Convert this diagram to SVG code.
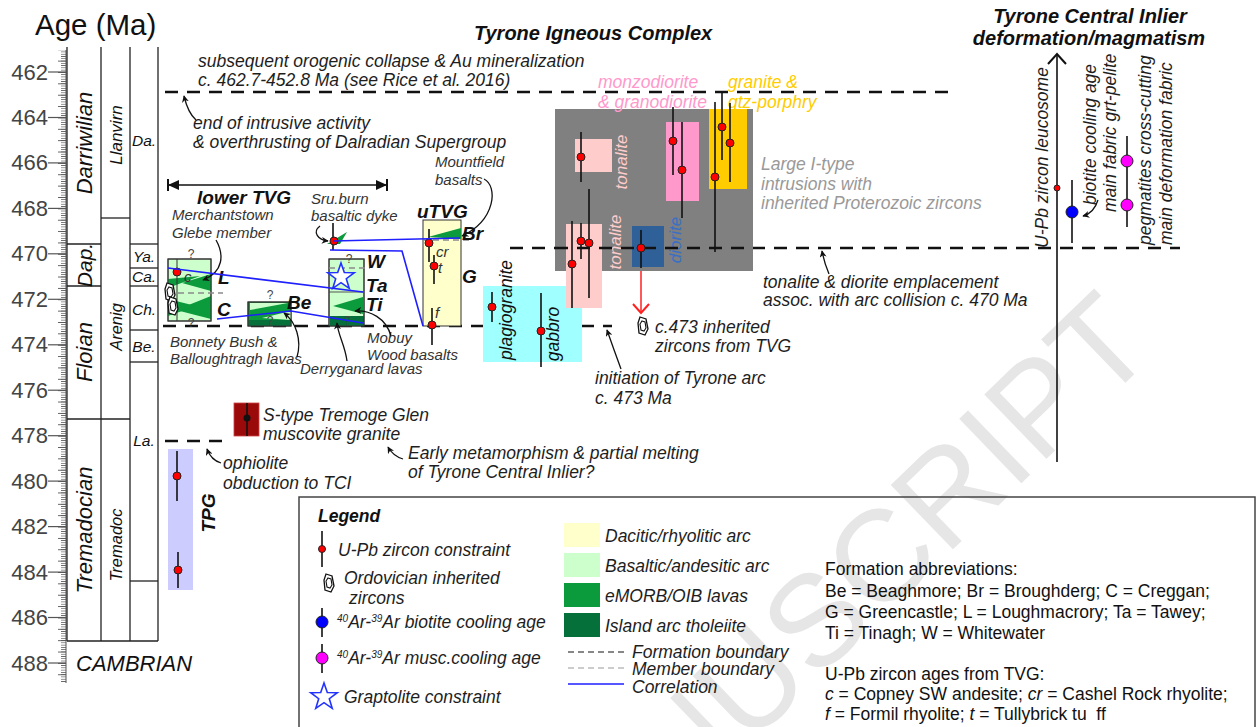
<svg xmlns="http://www.w3.org/2000/svg" width="1258" height="727" viewBox="0 0 1258 727">
<style>
text{font-family:"Liberation Sans",Arial,Helvetica,sans-serif;}
.i{font-style:italic}
.b{font-weight:bold}
.ann{font-size:17.5px;font-style:italic;fill:#1e1e1e}
.sm{font-size:15px;font-style:italic;fill:#333}
.lab{font-size:19px;font-weight:bold;font-style:italic;fill:#111}
.age{font-size:22px;fill:#444;text-anchor:end}
.pt{fill:#ff0000;stroke:#222;stroke-width:1}
.el{stroke:#111;stroke-width:1.6;fill:none}
.dash{stroke:#111;stroke-width:2.5;stroke-dasharray:13 9;fill:none}
.mdash{stroke:#8a8a8a;stroke-width:1.5;stroke-dasharray:6 4;fill:none}
.corr{stroke:#1f1fff;stroke-width:1.6;fill:none}
.arr{stroke:#111;stroke-width:1.3;fill:none;marker-end:url(#ah)}
.q{font-size:12px;fill:#444;text-anchor:middle}
.box{stroke:#333;stroke-width:1}
.col{stroke:#222;stroke-width:1.3;fill:none}
</style>
<defs>
<marker id="ah" viewBox="0 0 10 10" refX="9" refY="5" markerWidth="7" markerHeight="7" orient="auto" markerUnits="userSpaceOnUse">
<path d="M0,0 L10,5 L0,10 L3,5 Z" fill="#111"/>
</marker>
<symbol id="zr" viewBox="-7 -10 14 20" overflow="visible">
<path d="M-3,-9 L3,-7 L5,3 L2,9 L-4,7 L-5,-3 Z" fill="#fff" stroke="#111" stroke-width="1.3"/>
<path d="M-1,-5 L2,-4 L3,2 L1,5 L-2,4 L-3,-2 Z" fill="none" stroke="#111" stroke-width="1.1"/>
</symbol>
<symbol id="star" viewBox="-15 -15 30 30" overflow="visible">
<path d="M0,-14 L3.3,-4.5 L13.3,-4.3 L5.3,1.7 L8.2,11.3 L0,5.6 L-8.2,11.3 L-5.3,1.7 L-13.3,-4.3 L-3.3,-4.5 Z" fill="#fff" stroke="#2233ff" stroke-width="1.6"/>
</symbol>
<pattern id="tk1" patternUnits="userSpaceOnUse" x="0" y="72" width="20" height="2.2727"><rect x="0" y="0" width="20" height="0.7" fill="#555"/></pattern>
<pattern id="tk5" patternUnits="userSpaceOnUse" x="0" y="72" width="20" height="11.364"><rect x="0" y="0" width="20" height="0.9" fill="#555"/></pattern>
</defs>

<g id="watermark">
<text x="540" y="948" transform="rotate(-44 540 948)" font-size="130" fill="#e6e6e6">MANUSCRIPT</text>
</g>

<g id="timescale">
<text x="35" y="35" font-size="29.5" fill="#111">Age (Ma)</text>
<rect x="61" y="50" width="5" height="633" fill="url(#tk1)"/>
<rect x="58" y="50" width="8" height="633" fill="url(#tk5)"/>
<line x1="66" y1="50" x2="66" y2="683" stroke="#555" stroke-width="1"/>
<g stroke="#555" stroke-width="1.2">
<line x1="48" y1="72" x2="66" y2="72"/><line x1="48" y1="117.5" x2="66" y2="117.5"/><line x1="48" y1="162.9" x2="66" y2="162.9"/><line x1="48" y1="208.4" x2="66" y2="208.4"/><line x1="48" y1="253.8" x2="66" y2="253.8"/><line x1="48" y1="299.3" x2="66" y2="299.3"/><line x1="48" y1="344.8" x2="66" y2="344.8"/><line x1="48" y1="390.2" x2="66" y2="390.2"/><line x1="48" y1="435.7" x2="66" y2="435.7"/><line x1="48" y1="481.1" x2="66" y2="481.1"/><line x1="48" y1="526.6" x2="66" y2="526.6"/><line x1="48" y1="572.1" x2="66" y2="572.1"/><line x1="48" y1="617.5" x2="66" y2="617.5"/><line x1="48" y1="663" x2="66" y2="663"/>
</g>
<g class="age">
<text x="48" y="79.5">462</text><text x="48" y="125">464</text><text x="48" y="170.4">466</text><text x="48" y="215.9">468</text><text x="48" y="261.3">470</text><text x="48" y="306.8">472</text><text x="48" y="352.3">474</text><text x="48" y="397.7">476</text><text x="48" y="443.2">478</text><text x="48" y="488.6">480</text><text x="48" y="534.1">482</text><text x="48" y="579.6">484</text><text x="48" y="625">486</text><text x="48" y="670.5">488</text>
</g>
<g class="col">
<line x1="67" y1="47" x2="67" y2="641"/><line x1="101" y1="47" x2="101" y2="641"/><line x1="130" y1="47" x2="130" y2="641"/><line x1="158" y1="47" x2="158" y2="641"/>
<line x1="67" y1="641" x2="158" y2="641"/>
<line x1="67" y1="244" x2="101" y2="244"/><line x1="67" y1="286" x2="101" y2="286"/><line x1="67" y1="419" x2="130" y2="419"/>
<line x1="101" y1="218" x2="130" y2="218"/>
<line x1="130" y1="244" x2="158" y2="244"/><line x1="130" y1="268" x2="158" y2="268"/><line x1="130" y1="286" x2="158" y2="286"/><line x1="130" y1="330" x2="158" y2="330"/><line x1="130" y1="362" x2="158" y2="362"/><line x1="130" y1="581" x2="158" y2="581"/>
</g>
<g class="i" fill="#111" text-anchor="middle">
<text x="92" y="143" font-size="22" transform="rotate(-90 92 143)">Darriwilian</text>
<text x="92" y="265" font-size="21" transform="rotate(-90 92 265)">Dap.</text>
<text x="92" y="352" font-size="22" transform="rotate(-90 92 352)">Floian</text>
<text x="92" y="530" font-size="22" transform="rotate(-90 92 530)">Tremadocian</text>
<text x="122" y="135" font-size="17" transform="rotate(-90 122 135)">Llanvirn</text>
<text x="122" y="327" font-size="16.5" transform="rotate(-90 122 327)">Arenig</text>
<text x="122" y="545" font-size="16.5" transform="rotate(-90 122 545)">Tremadoc</text>
<text x="144" y="146" font-size="15.5">Da.</text>
<text x="144" y="262" font-size="15.5">Ya.</text>
<text x="144" y="282" font-size="15.5">Ca.</text>
<text x="144" y="315" font-size="15.5">Ch.</text>
<text x="144" y="352" font-size="15.5">Be.</text>
<text x="144" y="446" font-size="15.5">La.</text>
</g>
<text x="76" y="671" font-size="22" class="i" fill="#111">CAMBRIAN</text>
</g>

<g id="boundaries">
<line class="dash" x1="165" y1="92" x2="955" y2="92"/>
<line class="dash" x1="510" y1="248" x2="1180" y2="248"/>
<line class="dash" x1="163" y1="326" x2="612" y2="326"/>
<line class="dash" x1="165" y1="441" x2="223" y2="441"/>
</g>

<g id="headers">
<text x="474" y="40" font-size="20" class="b i" fill="#111">Tyrone Igneous Complex</text>
<text x="1090" y="23" font-size="20" class="b i" fill="#111" text-anchor="middle">Tyrone Central Inlier</text>
<text x="1089" y="45" font-size="20" class="b i" fill="#111" text-anchor="middle">deformation/magmatism</text>
<text x="198" y="67" class="ann">subsequent orogenic collapse &amp; Au mineralization</text>
<text x="198" y="86" class="ann">c. 462.7-452.8 Ma (see Rice et al. 2016)</text>
<text x="193" y="129" class="ann">end of intrusive activity</text>
<text x="193" y="148" class="ann">&amp; overthrusting of Dalradian Supergroup</text>
<path class="arr" d="M196,120 Q188,113 184,96"/>
</g>

<g id="tpg">
<rect x="168" y="449" width="25" height="141" fill="#ccccff"/>
<line class="el" x1="177" y1="451" x2="177" y2="501"/>
<circle class="pt" cx="177" cy="476" r="4"/>
<line class="el" x1="178" y1="552" x2="178" y2="588"/>
<circle class="pt" cx="178" cy="570" r="4"/>
<text x="215" y="513" class="lab" text-anchor="middle" transform="rotate(-90 215 513)">TPG</text>
<text x="223" y="469" class="ann">ophiolite</text>
<text x="223" y="489" class="ann">obduction to TCI</text>
<path class="arr" d="M221,463 Q211,460 207,449"/>
</g>

<g id="stype">
<rect x="234" y="403" width="25" height="33" fill="#9b0a0a" stroke="#c44" stroke-width="0.8"/>
<line class="el" x1="247" y1="403" x2="247" y2="436"/>
<circle cx="247" cy="418" r="3.5" fill="#111"/>
<text x="263" y="421" class="ann">S-type Tremoge Glen</text>
<text x="263" y="440" class="ann">muscovite granite</text>
<text x="408" y="459" class="ann">Early metamorphism &amp; partial melting</text>
<text x="408" y="478" class="ann">of Tyrone Central Inlier?</text>
<path class="arr" d="M403,459 Q393,456 388,447"/>
</g>

<g id="lowerTVG">
<line x1="168" y1="185" x2="387" y2="185" stroke="#111" stroke-width="1.5"/>
<line x1="168" y1="179" x2="168" y2="191" stroke="#111" stroke-width="2"/>
<line x1="387" y1="179" x2="387" y2="191" stroke="#111" stroke-width="2"/>
<path d="M168,185 L179,180 L179,190 Z" fill="#111"/>
<path d="M387,185 L376,180 L376,190 Z" fill="#111"/>
<text x="197" y="204" class="lab" font-size="20.5">lower TVG</text>
</g>

<g id="col-LC">
<rect x="168" y="259" width="43" height="62" fill="#ccffcc" class="box"/>
<path d="M182,283 L211,274 L211,291 Z" fill="#0b9a3c"/>
<path d="M168,279 L200,276 L168,288 Z" fill="#0b9a3c"/>
<path d="M176,310 L211,296 L211,319 Z" fill="#0b9a3c"/>
<path d="M168,299 L196,306 L168,316 Z" fill="#0b9a3c"/>
<line x1="177" y1="259" x2="177" y2="321" stroke="#333" stroke-width="1"/>
<rect x="168" y="259" width="43" height="62" fill="none" class="box"/>
<line class="mdash" x1="168" y1="293" x2="223" y2="293"/>
<use href="#zr" x="163" y="282" width="14" height="20"/>
<use href="#zr" x="166" y="296" width="14" height="20"/>
<circle class="pt" cx="177" cy="272" r="4"/>
<text x="184" y="282" class="sm" font-size="16">c</text>
<text x="191" y="258" class="q">?</text>
<text x="191" y="327" class="q">?</text>
<text x="218" y="284" class="lab">L</text>
<text x="217" y="316" class="lab">C</text>
<text x="172" y="220" class="sm">Merchantstown</text>
<text x="172" y="238" class="sm">Glebe member</text>
<path class="arr" d="M216,240 C224,254 224,272 203,280"/>
</g>

<g id="col-Be">
<rect x="248" y="302" width="43" height="24" fill="#0b9a3c" class="box"/>
<path d="M250,303 L288,303 L250,310 Z" fill="#ccffcc"/>
<path d="M262,318 L291,311 L291,320 Z" fill="#ccffcc"/>
<rect x="249" y="320" width="42" height="6" fill="#05703a"/>
<rect x="248" y="302" width="43" height="24" fill="none" class="box"/>
<text x="270" y="299" class="q">?</text>
<text x="270" y="325" class="q">?</text>
<text x="287" y="309" class="lab">Be</text>
<text x="170" y="347" class="sm">Bonnety Bush &amp;</text>
<text x="170" y="364" class="sm">Balloughtragh lavas</text>
<path class="arr" d="M297,357 C302,340 296,322 284,313"/>
</g>

<g id="col-WTaTi">
<rect x="329" y="259" width="35" height="67" fill="#ccffcc" class="box"/>
<path d="M333,306 L363,297 L363,314 Z" fill="#0b9a3c"/>
<rect x="330" y="316" width="34" height="10" fill="#05703a"/>
<line x1="329" y1="292" x2="364" y2="292" stroke="#555" stroke-width="1"/>
<rect x="329" y="259" width="35" height="67" fill="none" class="box"/>
<line class="mdash" x1="329" y1="268" x2="370" y2="268"/>
<use href="#star" x="326" y="262" width="30" height="30"/>
<text x="349" y="263" class="q">?</text>
<text x="347" y="325" class="q">?</text>
<text x="367" y="268" class="lab">W</text>
<text x="366" y="292" class="lab">Ta</text>
<text x="366" y="311" class="lab">Ti</text>
<text x="300" y="374" class="sm">Derryganard lavas</text>
<path class="arr" d="M347,361 C345,345 338,335 337,323"/>
<text x="367" y="343" class="sm">Mobuy</text>
<text x="367" y="360" class="sm">Wood basalts</text>
<path class="arr" d="M391,336 C386,318 370,310 355,311"/>
</g>

<g id="dyke">
<line class="el" x1="333" y1="223" x2="333" y2="250"/>
<path d="M327,244 L347,232 L340,244 Z" fill="#0b9a3c"/>
<circle class="pt" cx="334" cy="241" r="4"/>
<text x="311" y="204" class="sm">Sru.burn</text>
<text x="311" y="221" class="sm">basaltic dyke</text>
<path class="arr" d="M320,226 C312,232 318,240 328,241"/>
</g>

<g id="col-uTVG">
<rect x="423" y="220" width="38" height="106" fill="#ffffcc" class="box"/>
<path d="M428,237 L461,228 L461,239 Z" fill="#0b9a3c"/>
<line class="mdash" x1="423" y1="240" x2="470" y2="240"/>
<line class="el" x1="429" y1="229" x2="429" y2="262"/>
<line class="el" x1="434" y1="255" x2="434" y2="284"/>
<line class="el" x1="432" y1="308" x2="432" y2="345"/>
<circle class="pt" cx="429" cy="243" r="4"/>
<circle class="pt" cx="434" cy="266" r="4"/>
<circle class="pt" cx="432" cy="325" r="4"/>
<text x="436" y="257" class="sm" font-size="16">cr</text>
<text x="438" y="273" class="sm" font-size="16">t</text>
<text x="435" y="318" class="sm" font-size="16">f</text>
<text x="417" y="218" class="lab" font-size="19.5">uTVG</text>
<text x="462" y="240" class="lab">Br</text>
<text x="462" y="283" class="lab" font-size="20">G</text>
<text x="435" y="167" class="sm">Mountfield</text>
<text x="435" y="185" class="sm">basalts</text>
<path class="arr" d="M484,179 C498,186 496,220 462,236"/>
</g>

<g id="connectors">
<path class="corr" d="M333,241 L460,238"/>
<path class="corr" d="M330,250 L402,251 L423,326"/>
<path class="corr" d="M168,268 L363,292"/>
<path class="corr" d="M217,319 L291,311 L363,323"/>
</g>

<g id="ophiolite-arc">
<rect x="483" y="286" width="99" height="76" fill="#a0ffff"/>
<line class="el" x1="492" y1="292" x2="492" y2="322"/>
<circle class="pt" cx="492" cy="307" r="4"/>
<line class="el" x1="541" y1="293" x2="541" y2="367"/>
<circle class="pt" cx="541" cy="331" r="4"/>
<text x="512" y="310" font-size="17.5" class="i" fill="#111" text-anchor="middle" transform="rotate(-90 512 310)">plagiogranite</text>
<text x="559" y="334" font-size="17.5" class="i" fill="#111" text-anchor="middle" transform="rotate(-90 559 334)">gabbro</text>
<text x="595" y="384" class="ann">initiation of Tyrone arc</text>
<text x="595" y="404" class="ann">c. 473 Ma</text>
<path class="arr" d="M621,369 Q614,350 607,330"/>
</g>

<g id="intrusions">
<rect x="555" y="109" width="198" height="162" fill="#808080"/>
<rect x="575" y="139" width="37" height="33" fill="#ffcccc"/>
<rect x="566" y="224" width="36" height="84" fill="#ffcccc"/>
<rect x="632" y="226" width="32" height="41" fill="#2f6098"/>
<rect x="666" y="122" width="33" height="79" fill="#ff99cc"/>
<rect x="709" y="109" width="38" height="80" fill="#ffcc00"/>
<text x="627" y="162" font-size="17" class="i" fill="#ffcccc" text-anchor="middle" transform="rotate(-90 627 162)">tonalite</text>
<text x="621" y="242" font-size="17" class="i" fill="#ffcccc" text-anchor="middle" transform="rotate(-90 621 242)">tonalite</text>
<text x="681" y="240" font-size="17" class="i" fill="#3a6fc4" text-anchor="middle" transform="rotate(-90 681 240)">diorite</text>
<text x="598" y="88" class="ann" style="fill:#ff99cc">monzodiorite</text>
<text x="598" y="108" class="ann" style="fill:#ff99cc">&amp; granodiorite</text>
<text x="728" y="88" class="ann" style="fill:#ffcc00">granite &amp;</text>
<text x="728" y="108" class="ann" style="fill:#ffcc00">qtz-porphry</text>
<text x="761" y="170" class="ann" style="fill:#999">Large I-type</text>
<text x="761" y="190" class="ann" style="fill:#999">intrusions with</text>
<text x="761" y="209" class="ann" style="fill:#999">inherited Proterozoic zircons</text>
<g class="el">
<line x1="581" y1="132" x2="581" y2="182"/>
<line x1="572" y1="221" x2="572" y2="308"/>
<line x1="581" y1="223" x2="581" y2="259"/>
<line x1="589" y1="189" x2="589" y2="298"/>
<line x1="641" y1="230" x2="641" y2="268"/>
<line x1="673" y1="107" x2="673" y2="175"/>
<line x1="682" y1="122" x2="682" y2="218"/>
<line x1="722" y1="92" x2="722" y2="160"/>
<line x1="730" y1="103" x2="730" y2="182"/>
<line x1="715" y1="102" x2="715" y2="252"/>
</g>
<line class="dash" x1="555" y1="248" x2="753" y2="248"/>
<circle class="pt" cx="581" cy="157" r="4"/>
<circle class="pt" cx="572" cy="264" r="4"/>
<circle class="pt" cx="581" cy="241" r="4"/>
<circle class="pt" cx="589" cy="243" r="4"/>
<circle class="pt" cx="641" cy="248" r="4"/>
<circle class="pt" cx="673" cy="141" r="4"/>
<circle class="pt" cx="682" cy="170" r="4"/>
<circle class="pt" cx="722" cy="127" r="4"/>
<circle class="pt" cx="730" cy="143" r="4"/>
<circle class="pt" cx="715" cy="177" r="4"/>
<line x1="641" y1="271" x2="641" y2="312" stroke="#ff2020" stroke-width="1.5"/>
<path d="M633,304 L641,313 L649,304" fill="none" stroke="#ff2020" stroke-width="2"/>
<use href="#zr" x="636" y="316" width="14" height="20"/>
<text x="655" y="333" class="ann">c.473 inherited</text>
<text x="655" y="352" class="ann">zircons from TVG</text>
<text x="763" y="288" class="ann">tonalite &amp; diorite emplacement</text>
<text x="763" y="306" class="ann">assoc. with arc collision c. 470 Ma</text>
<path class="arr" d="M829,274 Q824,262 822,251"/>
</g>

<g id="tci">
<line x1="1057" y1="462" x2="1057" y2="54" stroke="#111" stroke-width="1.6"/>
<path d="M1048,64 L1057,54 L1066,64" fill="none" stroke="#111" stroke-width="2"/>
<circle class="pt" cx="1057" cy="188" r="3"/>
<text x="1048" y="248" class="ann" transform="rotate(-90 1048 248)">U-Pb zircon leucosome</text>
<line class="el" x1="1072" y1="180" x2="1072" y2="243"/>
<circle cx="1072" cy="212" r="6" fill="#0000ff" stroke="#222" stroke-width="1"/>
<text x="1096" y="205" class="ann" transform="rotate(-90 1096 205)">biotite cooling age</text>
<text x="1116" y="212" class="ann" transform="rotate(-90 1116 212)">main fabric grt-pelite</text>
<path class="arr" d="M1098,200 Q1094,213 1083,216"/>
<line class="el" x1="1127" y1="136" x2="1127" y2="227"/>
<circle cx="1127" cy="161" r="6" fill="#ff00ff" stroke="#222" stroke-width="1"/>
<circle cx="1127" cy="205" r="6" fill="#ff00ff" stroke="#222" stroke-width="1"/>
<text x="1151" y="245" class="ann" transform="rotate(-90 1151 245)">pegmatites cross-cutting</text>
<text x="1172" y="245" class="ann" transform="rotate(-90 1172 245)">main deformation fabric</text>
</g>

<g id="legend">
<rect x="299" y="497" width="956" height="250" fill="none" stroke="#444" stroke-width="1.5"/>
<text x="318" y="522" font-size="17.5" class="b i" fill="#111">Legend</text>
<line class="el" x1="322" y1="531" x2="322" y2="567"/>
<circle class="pt" cx="322" cy="549" r="3.5"/>
<text x="338" y="556" class="ann">U-Pb zircon constraint</text>
<use href="#zr" x="322" y="573" width="14" height="20"/>
<text x="344" y="584" class="ann">Ordovician inherited</text>
<text x="349" y="604" class="ann">zircons</text>
<line class="el" x1="322" y1="608" x2="322" y2="637"/>
<circle cx="322" cy="622" r="6" fill="#0000ff" stroke="#222" stroke-width="1"/>
<text x="337" y="628" class="ann"><tspan font-size="10" dy="-6">40</tspan><tspan dy="6">Ar-</tspan><tspan font-size="10" dy="-6">39</tspan><tspan dy="6">Ar biotite cooling age</tspan></text>
<line class="el" x1="322" y1="644" x2="322" y2="673"/>
<circle cx="322" cy="658" r="6" fill="#ff00ff" stroke="#222" stroke-width="1"/>
<text x="337" y="664" class="ann"><tspan font-size="10" dy="-6">40</tspan><tspan dy="6">Ar-</tspan><tspan font-size="10" dy="-6">39</tspan><tspan dy="6">Ar musc.cooling age</tspan></text>
<use href="#star" x="309" y="682" width="30" height="30"/>
<text x="344" y="703" class="ann">Graptolite constraint</text>
<rect x="564" y="523" width="36" height="24" fill="#ffffcc"/>
<rect x="564" y="553" width="36" height="24" fill="#ccffcc"/>
<rect x="564" y="583" width="36" height="24" fill="#0b9a3c"/>
<rect x="564" y="613" width="36" height="24" fill="#05703a"/>
<text x="605" y="542" class="ann">Dacitic/rhyolitic arc</text>
<text x="605" y="572" class="ann">Basaltic/andesitic arc</text>
<text x="605" y="602" class="ann">eMORB/OIB lavas</text>
<text x="605" y="632" class="ann">Island arc tholeiite</text>
<line x1="568" y1="652" x2="624" y2="652" stroke="#111" stroke-width="1.2" stroke-dasharray="6 4"/>
<line x1="568" y1="668" x2="624" y2="668" stroke="#999" stroke-width="1.2" stroke-dasharray="6 4"/>
<line x1="568" y1="684" x2="624" y2="684" stroke="#1f1fff" stroke-width="1.5"/>
<text x="632" y="658" class="ann">Formation boundary</text>
<text x="632" y="675" class="ann">Member boundary</text>
<text x="632" y="693" class="ann">Correlation</text>
<g font-size="17.5" fill="#111">
<text x="825" y="575">Formation abbreviations:</text>
<text x="825" y="597">Be = Beaghmore; Br = Broughderg; C = Creggan;</text>
<text x="825" y="618">G = Greencastle; L = Loughmacrory; Ta = Tawey;</text>
<text x="825" y="639">Ti = Tinagh; W = Whitewater</text>
<text x="825" y="680">U-Pb zircon ages from TVG:</text>
<text x="825" y="700"><tspan class="i">c</tspan> = Copney SW andesite; <tspan class="i">cr</tspan> = Cashel Rock rhyolite;</text>
<text x="825" y="720" style="white-space:pre"><tspan class="i">f</tspan> = Formil rhyolite; <tspan class="i">t</tspan> = Tullybrick tu  ff</text>
</g>
</g>
</svg>
